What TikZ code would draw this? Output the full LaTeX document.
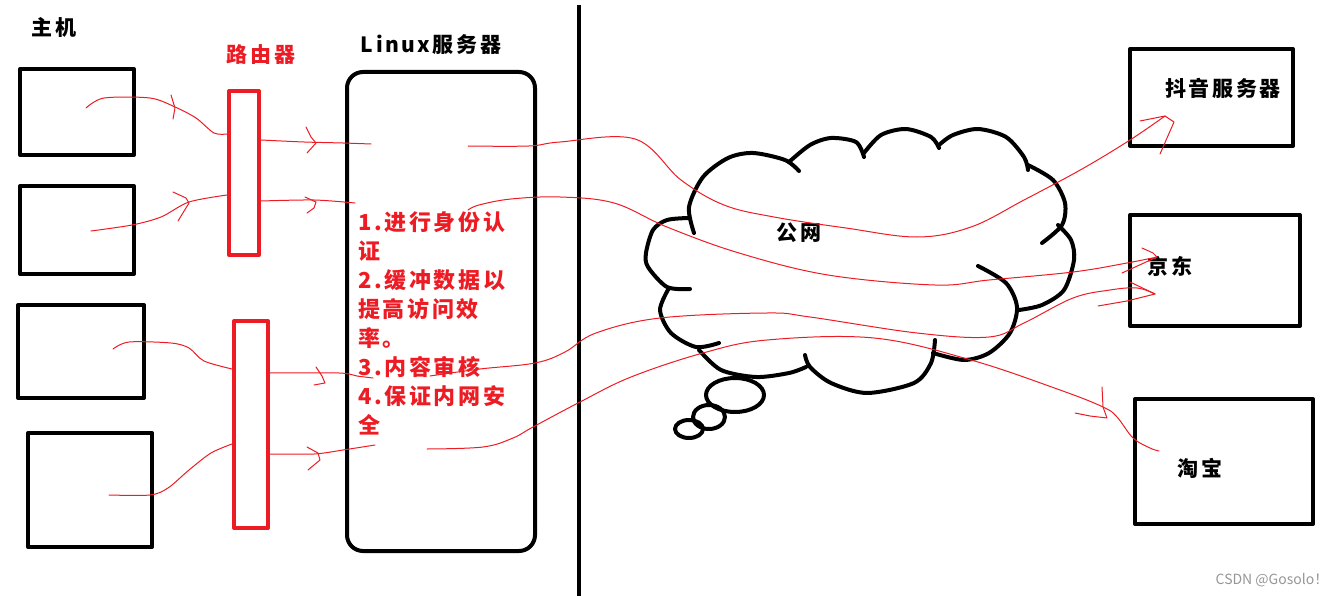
\documentclass[tikz,border=0pt]{standalone}
\usepackage{fontspec}
\setmainfont{Noto Sans CJK SC}[LetterSpace=12]
\definecolor{pen}{RGB}{237,28,36}
\definecolor{mark}{RGB}{150,150,150}
\tikzset{
  hostbox/.style={draw, line width=4pt, inner sep=0pt},
  wire/.style={draw=pen, line width=1pt},
  lobe/.style={line width=4pt},
  lbl/.style={font=\fontsize{21}{29}\selectfont\bfseries, inner sep=0pt}
}
\begin{document}
\begin{tikzpicture}[x=1pt, y=-1pt, line join=round, line cap=round]
	\useasboundingbox (0,0) rectangle (1343,596);
	\node[hostbox, minimum width=114, minimum height=86] (h1) at (77,112) {};
	\node[hostbox, minimum width=114, minimum height=88] (h2) at (77,230) {};
	\node[hostbox, minimum width=126, minimum height=93] (h3) at (81,351.5) {};
	\node[hostbox, minimum width=124, minimum height=114] (h4) at (90,490) {};
	\node[hostbox, draw=pen, minimum width=30, minimum height=164] (r1) at (244,173) {};
	\node[hostbox, draw=pen, minimum width=34, minimum height=207] (r2) at (251,424.5) {};
	\node[hostbox, rounded corners=16, minimum width=188, minimum height=479] (srv) at (441,311.5) {};
	\node[hostbox, minimum width=163, minimum height=97] (dy) at (1211.5,97.5) {};
	\node[hostbox, minimum width=170, minimum height=111] (jd) at (1215,270.5) {};
	\node[hostbox, minimum width=178, minimum height=125] (tb) at (1224,461.5) {};
	\node[lbl] (zj) at (54,27) {主机};
	\node[lbl, text=pen] (ly) at (261,55) {路由器};
	\node[lbl] (lx) at (431,45) {Linux服务器};
	\node[lbl, font=\fontsize{22}{29}\selectfont\bfseries, text=pen, anchor=north west, align=left] (gn) at (358,211)
	{1.进行身份认\\证\\2.缓冲数据以\\提高访问效\\率。\\3.内容审核\\4.保证内网安\\全};
	\node[lbl] (gw) at (799,233) {公网};
	\node[lbl] (dyt) at (1223,88) {抖音服务器};
	\node[lbl] (jdt) at (1170,266) {京东};
	\node[lbl] (tbt) at (1200,468) {淘宝};
	\node[font=\fontsize{14}{16}\selectfont\addfontfeature{LetterSpace=0}, text=mark, inner sep=0pt] (wm) at (1272,580) {CSDN @Gosolo！};
	\path
	(579,5) coordinate (tp)
	(579,596) coordinate (bt);
	\draw[line width=4pt, line cap=butt] (tp) -- (bt);
	% cloud
	\draw[lobe] plot[smooth] coordinates {(694,233) (689,207) (703,177) (728,158) (753,153) (785,160) (799,171)};
	\draw[lobe] plot[smooth] coordinates {(789,162) (810,145) (831,138) (856,142) (864,157)};
	\draw[lobe] plot[smooth] coordinates {(864,153) (881,135) (906,129) (931,137) (939,148)};
	\draw[lobe] plot[smooth] coordinates {(939,145) (953,135) (978,129) (1006,137) (1024,157) (1028,170)};
	\draw[lobe] plot[smooth] coordinates {(1028,165) (1053,180) (1065,203) (1062,225) (1042,243)};
	\draw[lobe] plot[smooth] coordinates {(1058,225) (1071,240) (1074,260) (1064,290) (1042,305) (1019,310)};
	\draw[lobe] plot[smooth] coordinates {(978,266) (1006,283) (1017,307) (1010,333) (989,353) (964,360) (933,353)};
	\draw[lobe] plot[smooth] coordinates {(935,340) (931,363) (914,383) (867,393) (831,383) (810,367) (805,355)};
	\draw[lobe] plot[smooth] coordinates {(806,367) (789,373) (756,377) (721,370) (699,350)};
	\draw[lobe] plot[smooth] coordinates {(719,343) (696,347) (671,333) (660,310) (669,288)};
	\draw[lobe] plot[smooth] coordinates {(690,289) (667,287) (648,267) (646,253) (653,230) (667,220) (689,218)};
	\foreach \cx/\cy/\rx/\ry in {735/395/29/17, 709/417/16/12, 689/429/14/9}
	\draw[lobe] (\cx,\cy) ellipse [x radius=\rx, y radius=\ry];
	% hosts to routers
	\path
	(86,108) coordinate (h1o) (227,134) coordinate (r1a)
	(91,231) coordinate (h2o) (227,195) coordinate (r1b)
	(113,349) coordinate (h3o) (232,369) coordinate (r2a)
	(109,495) coordinate (h4o) (232,444) coordinate (r2b);
	\draw[wire] plot[smooth] coordinates {(h1o) (104,98) (150,98) (175,107) (196,118) (214,133) (r1a)};
	\draw[wire] plot[smooth] coordinates {(h2o) (132,225) (161,217) (189,202) (r1b)};
	\draw[wire] plot[smooth] coordinates {(h3o) (129,342) (171,343) (189,348) (204,361) (r2a)};
	\draw[wire] plot[smooth] coordinates {(h4o) (150,495) (168,488) (189,470) (211,453) (r2b)};
	\draw[wire] (171,95) -- (175,108) -- (173,119);
	\draw[wire] (173,192) -- (186,198) -- (189,203) -- (178,221);
	% routers to server
	\path
	(261,140) coordinate (r1c) (371,144) coordinate (s1)
	(261,201) coordinate (r1d) (355,203) coordinate (s2)
	(270,373) coordinate (r2c) (373,378) coordinate (s3)
	(270,454) coordinate (r2d) (375,445) coordinate (s4);
	\draw[wire] plot[smooth] coordinates {(r1c) (304,142) (343,143) (s1)};
	\draw[wire] plot[smooth] coordinates {(r1d) (314,200) (s2)};
	\draw[wire] plot[smooth] coordinates {(r2c) (339,373) (357,376) (s3)};
	\draw[wire] plot[smooth] coordinates {(r2d) (314,454) (343,450) (s4)};
	\draw[wire] (306,127) -- (311,137) -- (316,143) -- (307,153);
	\draw[wire] (305,197) -- (316,202) -- (314,208) -- (307,213);
	\draw[wire] (316,367) -- (322,376) -- (325,383) -- (314,385);
	\draw[wire] (307,447) -- (318,453) -- (320,460) -- (308,470);
	% server to the web
	\path
	(468,146) coordinate (o1) (1165,116) coordinate (dyin)
	(468,210) coordinate (o2) (1157,257) coordinate (jdin)
	(430,376) coordinate (o3) (1155,294) coordinate (jdin2)
	(427,449) coordinate (o4) (1159,451) coordinate (tbin);
	\draw[wire] plot[smooth, tension=0.6] coordinates {(o1) (529,146) (560,142) (635,139) (681,180) (724,205) (774,217) (846,228) (917,237) (971,227) (1024,200) (1082,169) (1130,140) (dyin)};
	\draw[wire] plot[smooth, tension=0.6] coordinates {(o2) (479,205) (511,199) (560,197) (614,203) (667,227) (739,253) (828,275) (935,285) (989,280) (1073,272) (1127,263) (jdin)};
	\draw[wire] plot[smooth, tension=0.6] coordinates {(o3) (480,369) (535,363) (565,352) (596,333) (660,318) (767,313) (810,317) (917,333) (989,337) (1024,323) (1073,298) (1110,290) (1137,288) (jdin2)};
	\draw[wire] plot[smooth, tension=0.6] coordinates {(o4) (483,447) (513,438) (533,427) (580,402) (631,377) (703,353) (767,340) (874,338) (971,360) (1060,390) (1103,407) (1117,417) (1133,438) (1150,448) (tbin)};
	\draw[wire] (1140,121) -- (dyin) -- (1174,122) -- (1160,154);
	\draw[wire] (1142,248) -- (1153,253) -- (jdin) -- (1122,273);
	\draw[wire] (1130,282) -- (jdin2) -- (1127,301) -- (1098,306);
	\draw[wire] (1102,387) -- (1103,407) -- (1107,418) -- (1090,416) -- (1075,413);
\end{tikzpicture}
\end{document}
